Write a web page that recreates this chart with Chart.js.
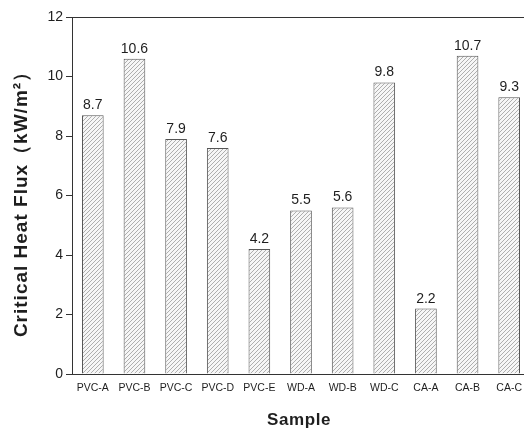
<!DOCTYPE html>
<html>
<head>
<meta charset="utf-8">
<script src="https://cdn.jsdelivr.net/npm/chart.js@4/dist/chart.umd.min.js"></script>
<style>
  html, body { margin: 0; padding: 0; background: #fff; overflow: hidden; }
  #wrap { width: 530px; height: 429px; }
</style>
</head>
<body>
<div id="wrap"><canvas id="c" width="530" height="429"></canvas></div>
<script>
const categories = ['PVC-A','PVC-B','PVC-C','PVC-D','PVC-E','WD-A','WD-B','WD-C','CA-A','CA-B','CA-C'];
const criticalHeatFlux = [8.7, 10.6, 7.9, 7.6, 4.2, 5.5, 5.6, 9.8, 2.2, 10.7, 9.3];
const yTicks = [0, 2, 4, 6, 8, 10, 12];
const yTitle = 'Critical Heat Flux（kW/m²）';
const xTitle = 'Sample';

const ink = '#1e1e1e';
const font = "'Liberation Sans', Arial, sans-serif";

// diagonal hatch fill for the bars
function hatch() {
  const s = 4;
  const p = document.createElement('canvas');
  p.width = s; p.height = s;
  const g = p.getContext('2d');
  g.fillStyle = '#f6f6f6';
  g.fillRect(0, 0, s, s);
  g.strokeStyle = '#a6a6a6';
  g.lineWidth = 0.9;
  g.beginPath();
  g.moveTo(-1, s + 1); g.lineTo(s + 1, -1);
  g.moveTo(-1, 1); g.lineTo(1, -1);
  g.moveTo(s - 1, s + 1); g.lineTo(s + 1, s - 1);
  g.stroke();
  return document.getElementById('c').getContext('2d').createPattern(p, 'repeat');
}

// value labels above bars, the top frame line and the spaced axis titles
const extras = {
  id: 'extras',
  afterDatasetsDraw(chart) {
    const ctx = chart.ctx;
    const meta = chart.getDatasetMeta(0);
    const a = chart.chartArea;
    ctx.save();
    ctx.fillStyle = ink;
    ctx.font = '14px ' + font;
    ctx.textAlign = 'center';
    ctx.textBaseline = 'alphabetic';
    meta.data.forEach((bar, i) => {
      ctx.fillText(criticalHeatFlux[i].toFixed(1), bar.x, bar.y - 6);
    });

    ctx.strokeStyle = '#333';
    ctx.lineWidth = 1;
    ctx.beginPath();
    ctx.moveTo(a.left, a.top + 0.5);
    ctx.lineTo(a.right, a.top + 0.5);
    ctx.stroke();

    // y-axis title
    ctx.font = 'bold 19px ' + font;
    ctx.letterSpacing = '1px';
    ctx.save();
    ctx.translate(27, (a.top + a.bottom) / 2 + 4);
    ctx.rotate(-Math.PI / 2);
    ctx.fillText(yTitle, 0, 0);
    ctx.restore();

    // x-axis title
    ctx.font = 'bold 17px ' + font;
    ctx.letterSpacing = '0.6px';
    ctx.fillText(xTitle, 299, a.bottom + 51);
    ctx.restore();
  }
};

new Chart(document.getElementById('c'), {
  type: 'bar',
  data: {
    labels: categories,
    datasets: [{
      data: criticalHeatFlux,
      backgroundColor: hatch(),
      borderColor: '#555',
      borderWidth: 1,
      borderSkipped: 'bottom',
      barPercentage: 0.52,
      categoryPercentage: 1.0
    }]
  },
  options: {
    responsive: false,
    animation: false,
    devicePixelRatio: 1,
    layout: { padding: { top: 17, left: 0, right: 0, bottom: 0 } },
    plugins: { legend: { display: false }, tooltip: { enabled: false } },
    scales: {
      x: {
        grid: { display: false, drawOnChartArea: false, drawTicks: true, tickLength: 5, color: '#333' },
        border: { display: true, color: '#333', width: 1 },
        ticks: { color: ink, font: { family: font, size: 10.5 }, padding: 3, maxRotation: 0, autoSkip: false },
        afterFit(s) { s.height = 55; }
      },
      y: {
        min: 0, max: 12,
        afterBuildTicks(s) { s.ticks = yTicks.map(v => ({ value: v })); },
        grid: { display: true, drawOnChartArea: false, drawTicks: true, tickLength: 6, color: '#333' },
        border: { display: true, color: '#333', width: 1 },
        ticks: { color: ink, font: { family: font, size: 14 }, padding: 3 },
        afterFit(s) { s.width = 72; }
      }
    }
  },
  plugins: [extras]
});
</script>
</body>
</html>
